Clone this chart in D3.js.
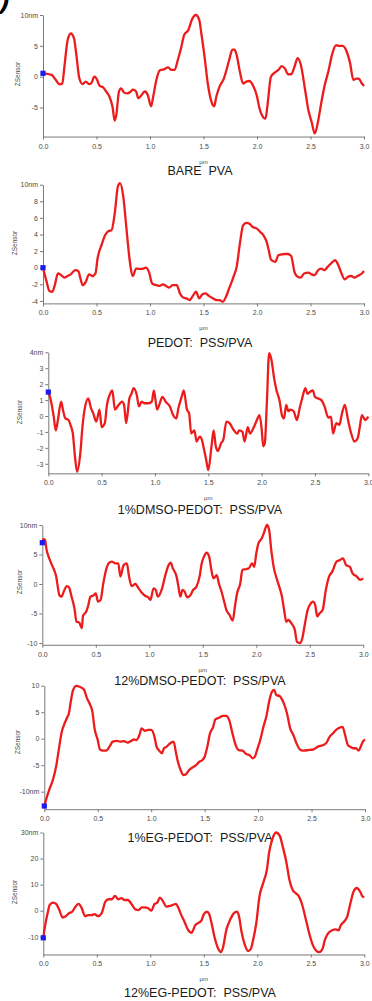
<!DOCTYPE html>
<html><head><meta charset="utf-8">
<script src="https://cdn.jsdelivr.net/npm/d3@7"></script>
<style>body{margin:0;background:#fff} svg{display:block} text{font-family:"Liberation Sans",Arial,sans-serif}</style>
</head><body><svg id="c" width="372" height="1001"></svg>
<script>
// ---- data: [x (µm), z (nm)] ----
const barePVA = [[0,0.55],[0.08,0.3],[0.11,-0.3],[0.156,-1.25],[0.18,-1.1],[0.2,1.6],[0.23,5.9],[0.26,7.0],[0.29,6.2],[0.31,3.8],[0.34,-0.3],[0.37,-1.2],[0.4,-0.8],[0.43,-1.2],[0.45,-1.1],[0.48,0],[0.5,-0.3],[0.53,-1.5],[0.56,-1.7],[0.59,-2.4],[0.62,-3.2],[0.65,-4.9],[0.67,-7.1],[0.685,-6.2],[0.71,-2.4],[0.73,-1.9],[0.76,-2.6],[0.79,-2.7],[0.82,-2.4],[0.84,-2.1],[0.87,-2.4],[0.89,-3.5],[0.92,-3.0],[0.95,-2.4],[0.98,-3.0],[1.01,-4.8],[1.03,-3.2],[1.06,-0.5],[1.09,1.0],[1.13,1.2],[1.17,1.5],[1.2,1.1],[1.23,1.1],[1.26,2.7],[1.29,4.6],[1.32,6.8],[1.36,7.6],[1.39,9.2],[1.43,10.0],[1.46,9.2],[1.48,7.0],[1.51,3.2],[1.54,-1.1],[1.57,-3.8],[1.6,-4.8],[1.62,-3.2],[1.65,-1.6],[1.69,-0.3],[1.71,0.8],[1.74,2.7],[1.77,4.4],[1.79,4.4],[1.81,3.5],[1.84,0.8],[1.87,-1.1],[1.9,-0.8],[1.93,-0.7],[1.96,-1.35],[2.0,-3.2],[2.02,-4.9],[2.06,-6.6],[2.08,-6.8],[2.1,-4.3],[2.13,0],[2.165,0.65],[2.2,1.1],[2.23,1.7],[2.26,1.35],[2.29,0.4],[2.32,0.4],[2.35,1.6],[2.38,3.0],[2.41,1.9],[2.45,-2.2],[2.48,-5.4],[2.51,-7.3],[2.54,-9.2],[2.57,-7.3],[2.6,-4.3],[2.63,-1.6],[2.67,1.1],[2.7,3.5],[2.74,5.1],[2.77,5.0],[2.8,5.0],[2.84,4.0],[2.87,2.2],[2.9,-0.5],[2.93,-0.3],[2.95,-0.3],[2.98,-1.1],[3.0,-1.5]];

const pedotPVA = [[0,0],[0.03,-1.5],[0.06,-2.8],[0.087,-2.9],[0.11,-2.1],[0.14,-0.7],[0.17,-0.9],[0.2,-1.2],[0.23,-1.0],[0.26,-0.8],[0.3,-0.3],[0.33,-0.4],[0.35,-1.3],[0.37,-2.1],[0.4,-1.7],[0.43,-0.8],[0.46,-1.0],[0.49,-0.7],[0.51,1.1],[0.55,2.85],[0.58,3.9],[0.61,4.4],[0.64,4.5],[0.67,6.5],[0.7,9.8],[0.72,10.2],[0.75,8.6],[0.78,4.7],[0.81,0.9],[0.84,-1.0],[0.87,-0.1],[0.9,-0.15],[0.93,-0.15],[0.96,0],[0.99,-0.5],[1.02,-1.9],[1.06,-2.1],[1.09,-2.2],[1.12,-2.0],[1.15,-2.2],[1.18,-2.4],[1.21,-2.1],[1.25,-2.1],[1.28,-3.1],[1.31,-3.6],[1.34,-3.7],[1.37,-3.9],[1.4,-3.4],[1.43,-2.9],[1.46,-3.7],[1.49,-3.2],[1.52,-3.1],[1.55,-3.4],[1.59,-3.7],[1.62,-3.9],[1.65,-3.9],[1.68,-4.1],[1.71,-3.5],[1.74,-2.5],[1.78,-1.1],[1.81,0.1],[1.84,2.9],[1.87,5.1],[1.9,5.4],[1.93,5.3],[1.96,4.9],[2.0,4.7],[2.03,4.3],[2.06,3.9],[2.09,3.1],[2.11,2.1],[2.13,1.0],[2.17,0.7],[2.2,1.5],[2.23,1.6],[2.26,1.65],[2.29,1.65],[2.32,1.4],[2.35,-0.5],[2.38,-1.1],[2.41,-1.2],[2.44,-0.7],[2.48,-0.6],[2.51,-0.8],[2.54,-0.9],[2.57,-0.3],[2.6,-0.1],[2.63,-0.3],[2.66,0.1],[2.69,0.5],[2.73,0.9],[2.76,0.3],[2.79,-0.7],[2.82,-1.4],[2.85,-1.1],[2.88,-1.0],[2.91,-1.2],[2.94,-1.0],[2.98,-0.7],[3.0,-0.4]];

const dmso1 = [[0,1.5],[0.02,1.1],[0.05,0],[0.07,-0.9],[0.09,-0.25],[0.12,0.9],[0.14,0.3],[0.16,-0.15],[0.19,-0.25],[0.21,-0.6],[0.23,-1.1],[0.25,-2.55],[0.27,-3.5],[0.3,-2.35],[0.32,-0.7],[0.34,0.4],[0.375,1.1],[0.4,0.5],[0.42,0.2],[0.45,-0.35],[0.48,0.4],[0.5,-0.7],[0.53,-0.45],[0.55,0.7],[0.58,1.4],[0.6,1.6],[0.625,0.4],[0.66,0.7],[0.69,0.9],[0.71,0.7],[0.73,-0.45],[0.76,1.1],[0.78,1.4],[0.8,1.75],[0.83,1.3],[0.85,0.6],[0.875,0.9],[0.9,0.8],[0.94,0.8],[0.97,0.9],[0.99,1.6],[1.02,0.4],[1.04,0.7],[1.07,1.2],[1.1,0.9],[1.14,0.6],[1.17,0.06],[1.2,-0.15],[1.22,0.5],[1.25,1.2],[1.27,1.6],[1.3,0.4],[1.32,0.17],[1.34,-1.1],[1.37,-0.9],[1.39,-1.6],[1.42,-1.3],[1.44,-1.5],[1.46,-2.1],[1.48,-2.75],[1.5,-3.4],[1.53,-1.9],[1.55,-0.9],[1.57,-1.9],[1.59,-2.2],[1.62,-1.7],[1.64,-1.5],[1.67,-0.35],[1.7,-0.45],[1.73,-0.8],[1.77,-1.1],[1.79,-0.9],[1.82,-1.0],[1.84,-1.6],[1.87,-0.7],[1.89,-1.1],[1.92,-0.8],[1.95,-0.35],[1.98,0.06],[2.0,-0.8],[2.015,-1.9],[2.03,-1.7],[2.05,1.0],[2.07,3.95],[2.09,3.6],[2.12,2.25],[2.14,1.6],[2.17,0.9],[2.19,0.06],[2.21,-0.15],[2.23,0.7],[2.25,0.3],[2.27,0.4],[2.3,0.3],[2.33,-0.25],[2.36,0.6],[2.38,1.1],[2.41,1.75],[2.43,1.4],[2.45,1.5],[2.48,1.6],[2.5,1.2],[2.53,1.1],[2.56,1.0],[2.59,0.6],[2.625,-0.1],[2.65,-0.04],[2.67,-1.1],[2.7,-0.45],[2.73,-0.55],[2.75,0.06],[2.78,0.7],[2.81,-0.25],[2.84,-1.1],[2.87,-1.6],[2.9,-1.4],[2.92,-0.7],[2.94,0.06],[2.97,-0.25],[3.0,-0.04]];

const dmso12 = [[0,7.0],[0.01,7.6],[0.025,7.5],[0.04,5.8],[0.065,4.35],[0.09,3.2],[0.11,2.4],[0.13,1.25],[0.14,0.1],[0.16,-1.9],[0.18,-2.15],[0.2,-1.3],[0.23,-0.35],[0.25,-0.55],[0.27,-1.9],[0.3,-4.1],[0.32,-6.4],[0.345,-6.55],[0.37,-7.5],[0.38,-5.4],[0.41,-4.7],[0.43,-3.6],[0.45,-2.15],[0.48,-1.9],[0.5,-1.6],[0.52,-3.0],[0.545,-2.7],[0.57,0.1],[0.6,2.65],[0.62,3.5],[0.65,3.8],[0.68,3.5],[0.71,3.5],[0.73,1.25],[0.76,3.2],[0.79,3.5],[0.81,1.35],[0.835,-0.35],[0.87,0],[0.9,-0.75],[0.93,-1.5],[0.96,-2.0],[0.99,-2.25],[1.01,-2.7],[1.04,-0.75],[1.06,-1.0],[1.08,-2.15],[1.115,-1.0],[1.15,1.5],[1.18,3.2],[1.2,3.6],[1.22,2.65],[1.255,1.25],[1.27,-0.2],[1.29,-2.15],[1.31,-1.0],[1.33,-1.3],[1.355,-2.25],[1.38,-2.0],[1.41,-1.0],[1.44,-0.45],[1.47,1.25],[1.49,3.5],[1.51,4.6],[1.535,5.3],[1.56,4.6],[1.58,2.4],[1.6,0.95],[1.63,1.5],[1.65,0.1],[1.68,-1.6],[1.7,-3.0],[1.72,-4.4],[1.75,-5.25],[1.78,-6.2],[1.8,-3.85],[1.82,-1.6],[1.85,0.1],[1.87,2.4],[1.9,2.5],[1.93,2.65],[1.96,3.5],[1.98,2.9],[2.0,5.2],[2.02,6.9],[2.05,7.7],[2.07,8.6],[2.1,10.0],[2.12,9.15],[2.14,5.75],[2.165,2.65],[2.19,0.95],[2.21,-0.2],[2.24,-2.15],[2.26,-4.4],[2.28,-6.4],[2.3,-6.1],[2.33,-6.7],[2.36,-7.8],[2.38,-9.8],[2.41,-10.0],[2.43,-9.2],[2.45,-7.2],[2.48,-4.4],[2.5,-3.55],[2.53,-3.0],[2.55,-3.55],[2.57,-5.5],[2.59,-5.0],[2.62,-4.4],[2.65,-1.0],[2.68,1.25],[2.71,2.1],[2.75,3.8],[2.78,4.05],[2.81,4.35],[2.84,3.2],[2.875,2.9],[2.9,1.8],[2.94,1.25],[2.97,0.7],[3.0,0.95]];

const eg1 = [[0,-12.7],[0.02,-11.25],[0.05,-9.4],[0.08,-7.8],[0.11,-5.3],[0.14,-1.5],[0.16,1.0],[0.19,2.9],[0.21,3.85],[0.23,4.8],[0.25,7.3],[0.27,9.2],[0.3,9.95],[0.33,9.8],[0.37,9.3],[0.4,7.6],[0.43,6.35],[0.45,5.1],[0.47,1.95],[0.5,-0.25],[0.52,-2.0],[0.55,-2.25],[0.58,-2.25],[0.61,-1.5],[0.64,-0.55],[0.68,-0.4],[0.71,-0.55],[0.745,-0.45],[0.78,-0.75],[0.81,-0.45],[0.84,-0.15],[0.86,-0.25],[0.89,0.7],[0.91,1.95],[0.94,1.5],[0.97,1.65],[1.0,1.65],[1.03,0.4],[1.05,-1.5],[1.075,-2.25],[1.1,-2.75],[1.12,-1.8],[1.145,-1.5],[1.175,-0.9],[1.21,-0.55],[1.23,-2.45],[1.25,-4.35],[1.275,-5.9],[1.3,-6.85],[1.325,-6.7],[1.355,-5.9],[1.39,-5.4],[1.42,-5.0],[1.45,-4.35],[1.48,-4.0],[1.5,-3.4],[1.525,-1.5],[1.55,1.0],[1.58,2.25],[1.6,3.65],[1.64,4.0],[1.67,4.3],[1.7,4.3],[1.73,3.5],[1.76,1.0],[1.79,-1.2],[1.82,-2.15],[1.855,-2.25],[1.89,-2.9],[1.92,-3.1],[1.95,-3.7],[1.97,-3.4],[1.99,-2.15],[2.02,-0.25],[2.05,2.25],[2.08,4.45],[2.1,6.7],[2.13,8.9],[2.15,9.2],[2.17,8.25],[2.2,8.05],[2.24,6.7],[2.27,4.8],[2.3,1.95],[2.33,0.7],[2.36,-0.9],[2.39,-2.0],[2.42,-2.25],[2.47,-2.15],[2.52,-2.0],[2.56,-1.5],[2.61,-1.2],[2.64,-0.75],[2.67,0.4],[2.7,1.0],[2.735,1.75],[2.77,2.15],[2.79,2.25],[2.81,1.0],[2.84,-1.2],[2.86,-1.5],[2.89,-1.8],[2.915,-1.8],[2.94,-2.25],[2.96,-1.5],[2.98,-0.55],[3.0,-0.15]];

const eg12 = [[0,-10.4],[0.015,-6.2],[0.04,-1.0],[0.06,2.2],[0.09,3.1],[0.12,2.6],[0.15,0.25],[0.18,-2.6],[0.21,-2.1],[0.24,-1.0],[0.27,-0.4],[0.305,1.8],[0.33,2.6],[0.36,0.9],[0.39,-2.1],[0.42,-1.7],[0.45,-1.7],[0.48,-1.3],[0.51,-2.1],[0.545,-1.0],[0.58,3.5],[0.61,4.4],[0.64,4.4],[0.67,5.7],[0.7,4.4],[0.73,4.8],[0.76,4.1],[0.79,4.1],[0.83,2.2],[0.86,0.5],[0.89,0.25],[0.92,1.3],[0.95,1.3],[0.98,0.9],[1.01,0],[1.04,2.6],[1.065,3.1],[1.09,5.0],[1.12,3.5],[1.15,1.55],[1.18,1.8],[1.21,2.2],[1.24,2.6],[1.26,1.3],[1.29,-1.7],[1.32,-4.3],[1.355,-7.5],[1.385,-8.5],[1.42,-5.6],[1.45,-4.65],[1.48,-3.6],[1.5,-1.3],[1.53,-0.4],[1.55,-1.3],[1.57,-4.3],[1.6,-10.1],[1.635,-14.6],[1.66,-15.9],[1.68,-14.0],[1.71,-7.5],[1.745,-3.6],[1.78,-1.0],[1.81,-0.4],[1.83,-2.3],[1.85,-7.5],[1.885,-13.3],[1.915,-15.5],[1.94,-14.6],[1.96,-11.4],[1.99,-4.9],[2.02,5.4],[2.06,11.25],[2.09,15.8],[2.11,22.25],[2.14,27.4],[2.175,30.0],[2.21,28.7],[2.24,24.2],[2.27,19.0],[2.3,11.9],[2.33,8.0],[2.36,6.7],[2.39,5.4],[2.42,2.2],[2.455,-3.6],[2.49,-9.4],[2.52,-13.3],[2.55,-15.3],[2.58,-15.9],[2.61,-14.6],[2.63,-11.4],[2.66,-8.8],[2.7,-7.5],[2.73,-7.2],[2.76,-7.5],[2.78,-5.6],[2.8,-4.65],[2.84,-2.3],[2.87,2.85],[2.9,7.4],[2.93,8.7],[2.96,7.4],[2.985,5.4],[3.0,5.2]];

const titles = ["BARE  PVA","PEDOT:  PSS/PVA","1%DMSO-PEDOT:  PSS/PVA","12%DMSO-PEDOT:  PSS/PVA","1%EG-PEDOT:  PSS/PVA","12%EG-PEDOT:  PSS/PVA"];
const xTicks = [0,0.5,1,1.5,2,2.5,3];
const xTickLabels = ["0.0","0.5","1.0","1.5","2.0","2.5","3.0"];
const yTicks1 = [10,5,0,-5],           yLabels1 = ["10nm","5","0","-5"];
const yTicks2 = [10,8,6,4,2,0,-2,-4],  yLabels2 = ["10nm","8","6","4","2","0","-2","-4"];
const yTicks3 = [4,3,2,1,0,-1,-2,-3],  yLabels3 = ["4nm","3","2","1","0","-1","-2","-3"];
const yTicks4 = [10,5,0,-5,-10],       yLabels4 = ["10nm","5","0","-5","-10"];
const yTicks5 = [10,5,0,-5,-10],       yLabels5 = ["10","5","0","-5","-10nm"];
const yTicks6 = [30,20,10,0,-10],      yLabels6 = ["30nm","20","10","0","-10"];
const yAxisTitle = "ZSensor", xAxisTitle = "µm";

// ---- layout ----
const svg = d3.select("#c");
const panels = [
  {data:barePVA,  yt:yTicks1, yl:yLabels1, x0:43,   x1:364,   ref:[0,10], py:[76.7,15],    ext:[-9.7,10],  ty:175, zx:20, zy:74,  mu:true},
  {data:pedotPVA, yt:yTicks2, yl:yLabels2, x0:43,   x1:364,   ref:[0,10], py:[267.7,184.7],ext:[-4.3,10],  ty:347, zx:17, zy:243, mu:true},
  {data:dmso1,    yt:yTicks3, yl:yLabels3, x0:48.3, x1:368.3, ref:[0,4],  py:[416,352.3],  ext:[-3.6,4],   ty:514, zx:22, zy:412, mu:true},
  {data:dmso12,   yt:yTicks4, yl:yLabels4, x0:42.3, x1:363.3, ref:[0,10], py:[584,525],    ext:[-10.3,10], ty:685, zx:22, zy:582, mu:true},
  {data:eg1,      yt:yTicks5, yl:yLabels5, x0:44.3, x1:365,   ref:[0,10], py:[738.7,685.7],ext:[-13.3,10], ty:842, zx:20, zy:742, mu:false},
  {data:eg12,     yt:yTicks6, yl:yLabels6, x0:43.3, x1:364.3, ref:[0,30], py:[910.7,832.5],ext:[-16.8,30], ty:997, zx:17, zy:892, mu:true}
];
const axisCol = "#7a7a7a", tickTxt = "#4a4a4a";

panels.forEach((p,i) => {
  const x = d3.scaleLinear().domain([0,3]).range([p.x0,p.x1]);
  const yr = d3.scaleLinear().domain(p.ref).range(p.py);
  const y = d3.scaleLinear().domain(p.ext).range(p.ext.map(yr));
  const g = svg.append("g");

  const ya = g.append("g").attr("transform",`translate(${p.x0},0)`)
    .call(d3.axisLeft(y).tickValues(p.yt).tickFormat((d,k)=>p.yl[k]).tickSize(3).tickSizeOuter(0).tickPadding(2));
  const xa = g.append("g").attr("transform",`translate(0,${y(p.ext[0])})`)
    .call(d3.axisBottom(x).tickValues(xTicks).tickFormat((d,k)=>xTickLabels[k]).tickSize(3).tickSizeOuter(0).tickPadding(4));
  [ya,xa].forEach(a=>{
    a.selectAll("path,line").attr("stroke",axisCol).attr("stroke-width",1);
    a.selectAll("text").attr("fill",tickTxt).attr("font-size",7).attr("font-family","'Liberation Sans',Arial,sans-serif");
  });

  g.append("text").attr("transform",`translate(${p.zx},${p.zy}) rotate(-90)`)
    .attr("text-anchor","middle").attr("font-size",6.5).attr("fill",tickTxt).text(yAxisTitle);
  if (p.mu) g.append("text").attr("x",(p.x0+p.x1)/2).attr("y",y(p.ext[0])+27)
    .attr("text-anchor","middle").attr("font-size",6).attr("fill",tickTxt).text(xAxisTitle);

  g.append("text").attr("x",200).attr("y",p.ty).attr("text-anchor","middle")
    .attr("font-size",12.5).attr("fill","#1a1a1a").style("white-space","pre").text(titles[i]);

  const line = d3.line().x(d=>x(d[0])).y(d=>y(d[1])).curve(d3.curveMonotoneX);
  g.append("path").datum(p.data).attr("d",line).attr("fill","none")
    .attr("stroke","#ec1c1c").attr("stroke-width",2.3).attr("stroke-linejoin","round");

  const f = p.data[0];
  g.append("rect").attr("x",x(f[0])-2.6).attr("y",y(f[1])-2.6).attr("width",5.2).attr("height",5.2).attr("fill","#1b1bf0");
});

svg.append("text").attr("x",0).attr("y",8).attr("font-size",28).attr("font-weight","bold")
  .attr("font-style","italic").attr("fill","#000").text(")");
</script>
</body></html>
